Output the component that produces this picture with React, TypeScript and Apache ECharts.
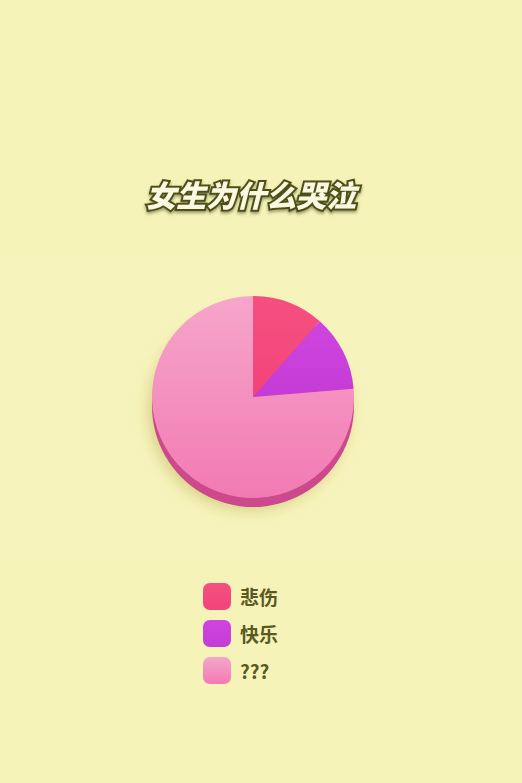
import React, { useEffect, useRef } from "react";
import * as echarts from "echarts";

const TITLE = "女生为什么哭泣";
const categories = ["悲伤", "快乐", "???"];
const values = [11.5, 12.2, 76.3];

export default function App() {
  const ref = useRef<HTMLDivElement>(null);
  useEffect(() => {
    if (!ref.current) return;
    const chart = echarts.init(ref.current, null, { renderer: "svg" });
    const lin = (a: string, b: string) =>
      new echarts.graphic.LinearGradient(0, 0, 0, 1, [
        { offset: 0, color: a },
        { offset: 1, color: b },
      ]);
    const sliceColors = [
      lin("#f5507f", "#f2447a"),
      lin("#cf45de", "#c53bd6"),
      lin("#f6a6cb", "#f27ab3"),
    ];
    chart.setOption({
      animation: false,
      backgroundColor: "#f6f3b9",
      title: {
        text: TITLE,
        left: 146,
        top: 179,
        padding: 0,
        textStyle: {
          fontFamily: "Noto Sans CJK SC",
          fontSize: 30,
          fontWeight: 900,
          fontStyle: "italic",
          color: "#fbf8e2",
          textBorderColor: "#4e4f16",
          textBorderWidth: 4,
          textShadowColor: "rgba(60,60,10,0.5)",
          textShadowBlur: 3,
          textShadowOffsetY: 2,
        },
      },
      graphic: [
        {
          type: "rect",
          z: -10,
          shape: { x: 0, y: 255, width: 522, height: 305 },
          style: { fill: "#f8f6c6", opacity: 0.3 },
        },
      ],
      legend: {
        data: categories,
        orient: "vertical",
        left: 203,
        top: 583,
        padding: 0,
        icon: "roundRect",
        itemWidth: 28,
        itemHeight: 27,
        itemGap: 10,
        selectedMode: false,
        textStyle: {
          fontFamily: "Noto Sans CJK SC",
          fontSize: 19,
          fontWeight: "bold",
          color: "#5a5a22",
          padding: [0, 0, 0, 4],
        },
      },
      series: [
        {
          type: "pie",
          z: 1,
          silent: true,
          center: [253, 406],
          radius: 101,
          label: { show: false },
          labelLine: { show: false },
          itemStyle: {
            color: "#cc4a8c",
            shadowColor: "rgba(160,150,40,0.35)",
            shadowBlur: 14,
            shadowOffsetX: -4,
            shadowOffsetY: 4,
          },
          data: [{ value: 1, name: "side" }],
        },
        {
          type: "pie",
          z: 2,
          center: [253, 397],
          radius: 101,
          startAngle: 90,
          clockwise: true,
          label: { show: false },
          labelLine: { show: false },
          itemStyle: { borderWidth: 0 },
          data: categories.map((c, i) => ({
            name: c,
            value: values[i],
            itemStyle: { color: sliceColors[i] },
          })),
        },
      ],
    });
    return () => chart.dispose();
  }, []);
  return (
    <div
      ref={ref}
      style={{ position: "fixed", left: 0, top: 0, width: 522, height: 783 }}
    />
  );
}
